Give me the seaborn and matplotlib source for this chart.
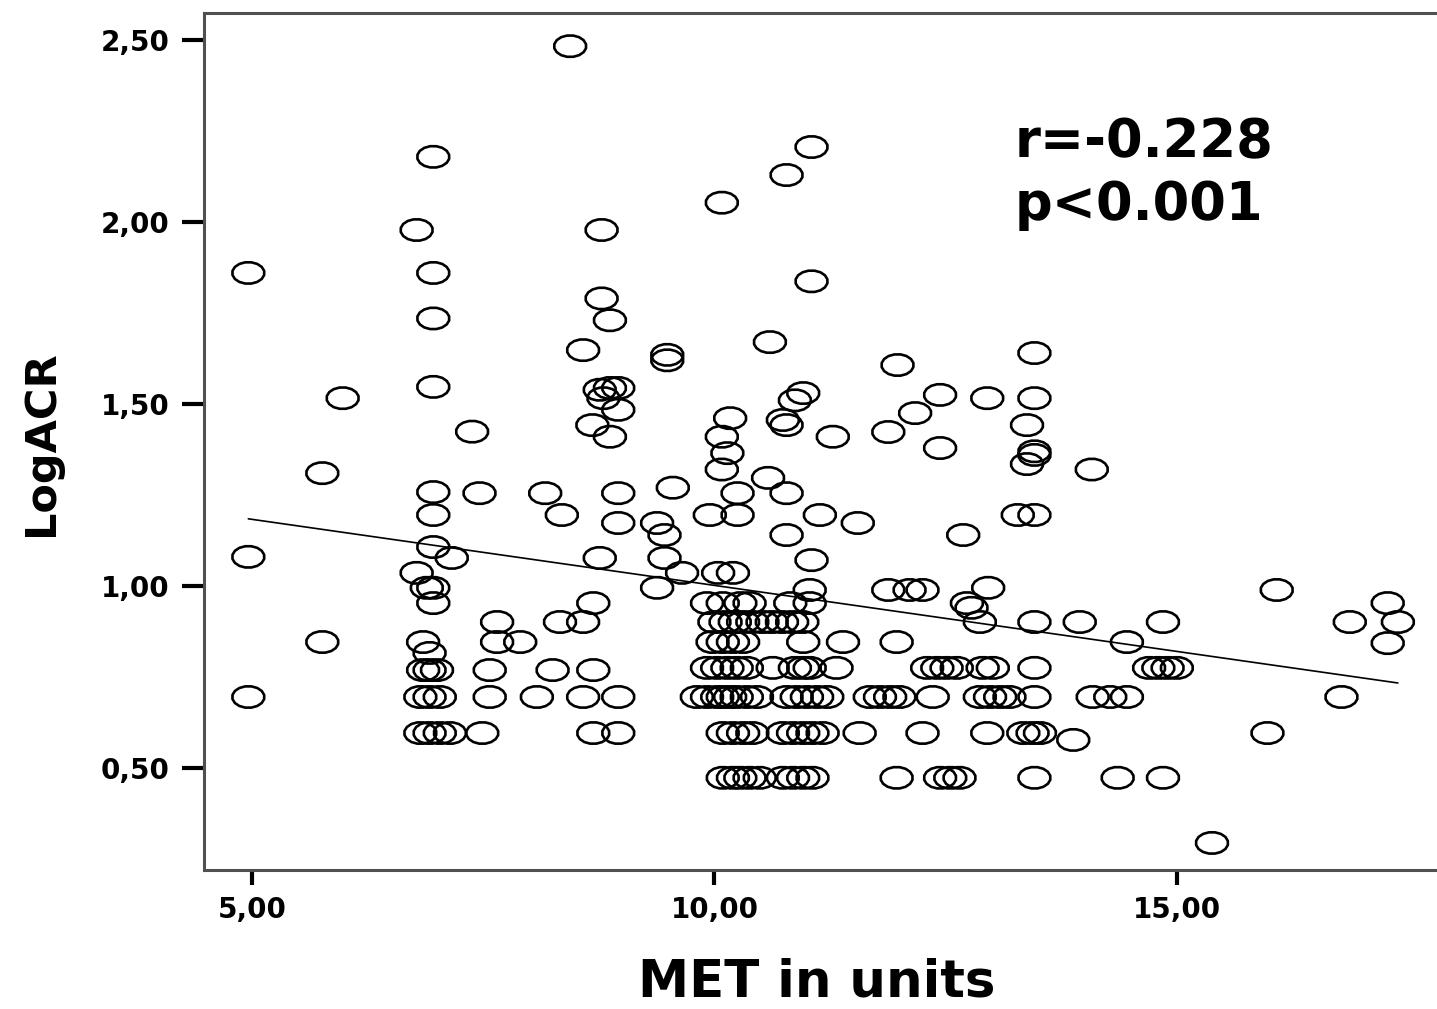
import numpy as np
import pandas as pd
import matplotlib
matplotlib.use("Agg")
import matplotlib.pyplot as plt
import seaborn as sns
from matplotlib.path import Path

# ---- scattered points (MET, LogACR) ----
met_scatter = [
    4.96, 4.96, 4.96, 5.98, 5.76, 5.76, 6.96, 6.78, 6.96, 6.96,
    6.96, 6.96, 6.96, 6.96, 7.16, 6.78, 6.89, 6.96, 6.96, 6.85,
    6.92, 6.85, 6.92, 7.00, 6.82, 6.92, 7.03, 6.82, 6.92, 7.03,
    7.14, 7.38, 7.46, 7.49, 7.65, 7.65, 7.90, 7.57, 7.57, 8.17,
    8.35, 8.08, 8.25, 8.33, 8.58, 8.69, 8.69, 8.58, 8.96, 8.69,
    8.96, 8.44, 8.58, 8.78, 8.78, 8.87, 8.76, 8.87, 8.96, 8.80,
    8.96, 8.68, 8.87, 8.96, 8.96, 8.76, 9.38, 9.46, 9.46, 9.38,
    9.65, 9.49, 9.49, 9.55, 10.08, 10.78, 11.05, 11.05, 10.60, 10.96,
    10.87, 10.74, 10.78, 10.17, 10.08, 11.28, 10.14, 10.08, 10.58, 10.25,
    10.78, 9.95, 10.25, 11.14, 11.55, 10.78, 11.05, 10.04, 10.20, 11.03,
    11.88, 12.11, 12.25, 12.96, 11.98, 11.88, 12.17, 12.44, 12.44, 12.95,
    12.69, 13.46, 13.46, 13.38, 13.46, 13.46, 13.38, 14.08, 13.28, 13.46,
    13.88, 15.38, 16.08, 17.28, 17.39, 17.28, 16.87, 12.78,
]
acr_scatter = [
    1.86, 1.08, 0.695, 1.516, 1.31, 0.846, 2.179, 1.978, 1.86, 1.735,
    1.547, 1.258, 1.195, 1.107, 1.077, 1.036, 0.995, 0.995, 0.953, 0.846,
    0.816, 0.769, 0.769, 0.769, 0.695, 0.695, 0.695, 0.596, 0.596, 0.596,
    0.596, 1.424, 1.255, 0.596, 0.901, 0.846, 0.846, 0.769, 0.695, 1.255,
    1.195, 0.695, 0.769, 0.901, 0.901, 0.953, 0.769, 0.695, 0.695, 0.596,
    0.596, 2.483, 1.648, 1.978, 1.79, 1.73, 1.539, 1.544, 1.544, 1.516,
    1.484, 1.442, 1.41, 1.255, 1.173, 1.077, 1.173, 1.14, 1.077, 0.995,
    1.036, 1.635, 1.62, 1.27, 2.053, 2.129, 2.206, 1.837, 1.67, 1.53,
    1.51, 1.456, 1.442, 1.461, 1.41, 1.41, 1.365, 1.32, 1.297, 1.255,
    1.255, 1.195, 1.195, 1.195, 1.173, 1.14, 1.071, 1.036, 1.036, 0.989,
    0.989, 0.989, 0.989, 0.995, 1.607, 1.423, 1.475, 1.525, 1.379, 1.516,
    1.14, 1.64, 1.516, 1.442, 1.37, 1.36, 1.335, 1.32, 1.195, 1.195,
    0.577, 0.294, 0.989, 0.953, 0.901, 0.843, 0.901, 0.94,
]

# ---- points lying on the common LogACR levels ----
row_levels = [0.953, 0.901, 0.846, 0.775, 0.695, 0.596, 0.473]
row_met = [
    [9.92, 10.09, 10.28, 10.38, 10.82, 11.03, 12.73],
    [10.00, 10.12, 10.22, 10.31, 10.41, 10.52, 10.62, 10.73, 10.84, 10.95,
     12.87, 13.46, 13.95, 14.85],
    [9.98, 10.09, 10.20, 10.31, 10.96, 11.39, 11.97, 14.46],
    [9.92, 10.03, 10.14, 10.24, 10.35, 10.63, 10.87, 10.96, 11.03, 11.32,
     12.30, 12.41, 12.51, 12.62, 12.90, 13.01, 13.46, 14.70, 14.80, 14.90, 15.00],
    [9.81, 9.92, 10.03, 10.09, 10.17, 10.24, 10.35, 10.46, 10.78, 10.89,
     11.00, 11.11, 11.22, 11.68, 11.79, 11.90, 12.00, 12.36, 12.87, 12.98,
     13.09, 13.19, 13.46, 14.09, 14.28, 14.46, 16.78],
    [10.09, 10.20, 10.31, 10.41, 10.74, 10.85, 10.96, 11.06, 11.17, 11.57,
     12.25, 12.95, 13.34, 13.44, 13.52, 15.98],
    [10.09, 10.20, 10.28, 10.38, 10.49, 10.74, 10.85, 10.96, 11.06, 11.97,
     12.44, 12.55, 12.65, 13.46, 14.36, 14.85],
]

x_ticks = [5, 10, 15]
x_tick_labels = ["5,00", "10,00", "15,00"]
y_ticks = [0.5, 1.0, 1.5, 2.0, 2.5]
y_tick_labels = ["0,50", "1,00", "1,50", "2,00", "2,50"]
stat_lines = ["r=-0.228", "p<0.001"]

met = list(met_scatter)
log_acr = list(acr_scatter)
for lvl, xs in zip(row_levels, row_met):
    met.extend(xs)
    log_acr.extend([lvl] * len(xs))
df = pd.DataFrame({"MET": met, "LogACR": log_acr})

sns.set_theme(style="white")
plt.rcParams["font.family"] = ["DejaVu Sans"]

fig = plt.figure(figsize=(14.37, 10.09), dpi=100)
ax = fig.add_axes([0.1423, 0.1378, 0.8633, 0.8498])

# flattened, slightly faceted open circle like the SPSS markers
theta = np.linspace(0, 2 * np.pi, 17)[:-1] + np.pi / 16
verts = np.column_stack([np.cos(theta), 0.67 * np.sin(theta)])
verts = np.vstack([verts, verts[:1]])
codes = [Path.MOVETO] + [Path.LINETO] * 15 + [Path.CLOSEPOLY]
oct_marker = Path(verts, codes)

sns.scatterplot(data=df, x="MET", y="LogACR", marker=oct_marker, s=520,
                facecolor="none", edgecolor="black", linewidth=1.9, ax=ax)
for coll in ax.collections:
    coll.set_facecolor("none")

sns.regplot(data=df, x="MET", y="LogACR", scatter=False, ci=None, truncate=True,
            line_kws=dict(color="black", lw=1.2), ax=ax)

ax.set_xlim(4.486, 17.90)
ax.set_ylim(0.2198, 2.5755)
ax.set_xticks(x_ticks)
ax.set_xticklabels(x_tick_labels)
ax.set_yticks(y_ticks)
ax.set_yticklabels(y_tick_labels)
ax.tick_params(axis="y", left=True, direction="out", length=16, width=3,
               pad=9, labelsize=20, color="black", labelcolor="black")
ax.tick_params(axis="x", bottom=True, direction="out", length=11, width=3,
               pad=8, labelsize=20, color="black", labelcolor="black")
for lab in ax.get_xticklabels() + ax.get_yticklabels():
    lab.set_fontweight("bold")

for side in ["left", "bottom", "top"]:
    ax.spines[side].set_visible(True)
    ax.spines[side].set_color("#505050")
    ax.spines[side].set_linewidth(2.2)
ax.spines["right"].set_visible(False)

ax.set_xlabel("MET in units", fontsize=37, fontweight="bold", color="black")
ax.set_ylabel("LogACR", fontsize=31, fontweight="bold", color="black")
ax.xaxis.set_label_coords(0.4937, -0.1026)
ax.yaxis.set_label_coords(-0.115, 0.498)

ax.text(13.25, 2.179, stat_lines[0], fontsize=38, fontweight="bold",
        ha="left", va="baseline", color="black")
ax.text(13.25, 2.005, stat_lines[1], fontsize=38, fontweight="bold",
        ha="left", va="baseline", color="black")

fig.savefig("out.png", dpi=100)
